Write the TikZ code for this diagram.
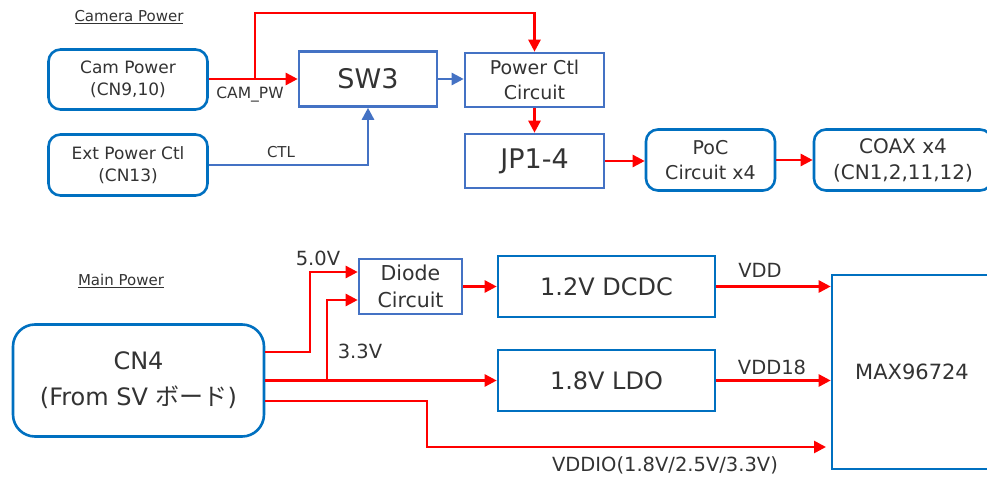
\documentclass[tikz,border=0pt]{standalone}
\usepackage{fontspec}
\setmainfont{DejaVu Sans}
\newfontfamily\jpfont{Noto Sans CJK JP}
\usepackage{xcolor}
\usepackage{tikz}
\usetikzlibrary{arrows.meta, positioning}
\definecolor{boxblue}{RGB}{0, 112, 192}
\definecolor{swblue}{RGB}{68, 114, 196}
\definecolor{pwrred}{RGB}{255, 0, 0}
\definecolor{inktext}{RGB}{51, 51, 51}
\newcommand{\fsz}[1]{\fontsize{#1}{1.3\dimexpr#1pt\relax}\selectfont}
\newcommand{\jp}[1]{{\jpfont #1}}
\tikzset{
    rbox/.style  ={draw=boxblue, line width=2.6pt, fill=white, rounded corners=12pt,
                   align=center, text=inktext, inner sep=0pt, font=\fsz{17}},
    sbox/.style  ={draw=swblue, line width=2.6pt, fill=white,
                   align=center, text=inktext, inner sep=0pt, font=\fsz{17}},
    mbox/.style  ={sbox, draw=boxblue},
    big/.style   ={font=\fsz{27}},
    redar/.style ={-{Triangle[length=12pt, width=12pt]}, line width=2.6pt, draw=pwrred},
    bluear/.style={-{Triangle[length=12pt, width=12pt]}, line width=2.6pt, draw=swblue},
    lbl/.style   ={text=inktext, inner sep=0pt, font=\fsz{19.5}},
    ttl/.style   ={text=inktext, inner sep=0pt, font=\fsz{15}}
}

\begin{document}
\begin{tikzpicture}[x=1pt, y=-1pt]
  \useasboundingbox (0,0) rectangle (987,478);

  % camera power
  \node[ttl] (camttl) at (129,17) {\underline{Camera Power}};
  \node[rbox, minimum width=159, minimum height=60] (campw) at (128,79.5) {Cam Power\\(CN9,10)};
  \node[rbox, minimum width=159, minimum height=61] (extctl) at (128,165) {Ext Power Ctl\\(CN13)};
  \node[sbox, big, minimum width=138, minimum height=55] (sw3) at (368,79) {SW3};
  \node[sbox, font=\fsz{19}, minimum width=139, minimum height=54] (pctl) at (534.5,80) {Power Ctl\\Circuit};
  \node[sbox, big, minimum width=139, minimum height=54] (jp) at (534.5,161) {JP1-4};
  \node[rbox, font=\fsz{19}, minimum width=129, minimum height=61] (poc) at (710.5,160) {PoC\\Circuit x4};
  \node[rbox, font=\fsz{20}, minimum width=178, minimum height=61] (coax) at (903,160) {COAX x4\\(CN1,2,11,12)};

  \coordinate (camtap) at (255,79);
  \draw[redar] (campw.east |- camtap) -- (sw3.west |- camtap);
  \draw[redar] (camtap) -- ++(0,-66) -| (pctl.north);
  \node[lbl, font=\fsz{15.5}] (campwlbl) at (250,95) {CAM\_PW};
  \draw[bluear] (extctl.east) -| (sw3.south);
  \node[lbl, font=\fsz{15}] (ctllbl) at (281,152) {CTL};
  \draw[bluear] (sw3.east) -- (sw3.east -| pctl.west);
  \draw[redar] (pctl.south) -- (jp.north);
  \draw[redar] (jp.east) -- (jp.east -| poc.west);
  \draw[redar] (poc.east) -- (coax.west);

  % main power
  \node[ttl] (mainttl) at (121,281) {\underline{Main Power}};
  \node[rbox, rounded corners=22pt, font=\fontsize{24}{36}\selectfont,
        minimum width=251, minimum height=112] (cn4) at (138.5,380.5) {CN4\\(From SV \jp{ボード})};
  \node[sbox, font=\fsz{20.5}, minimum width=103, minimum height=55] (diode) at (410.5,286.5) {Diode\\Circuit};
  \node[mbox, font=\fsz{24}, minimum width=217, minimum height=61] (dcdc) at (606.5,286.5) {1.2V DCDC};
  \node[mbox, font=\fsz{24}, minimum width=217, minimum height=61] (ldo) at (606.5,380.5) {1.8V LDO};
  \node[mbox, font=\fsz{21}, minimum width=160, minimum height=194] (max) at (912,372) {MAX96724};

  \draw[redar] (cn4.east |- 0,352) -| (310,272) -- (diode.west |- 0,272);
  \node[lbl] (v50) at (318,258) {5.0V};
  \coordinate (tap33) at (327,380.5);
  \draw[redar] (cn4.east) -- (ldo.west);
  \draw[redar] (tap33) |- (diode.west |- 0,300);
  \node[lbl] (v33) at (360,351) {3.3V};
  \coordinate (ioend) at (826,447);
  \draw[redar] (cn4.east |- 0,401) -| (427,447) -- (ioend);
  \node[lbl] (vddio) at (665,465) {VDDIO(1.8V/2.5V/3.3V)};
  \draw[redar] (diode.east) -- (dcdc.west);
  \draw[redar] (dcdc.east) -- (max.west |- dcdc.east);
  \node[lbl] (vdd) at (760,270) {VDD};
  \draw[redar] (ldo.east) -- (max.west |- ldo.east);
  \node[lbl] (vdd18) at (772,367) {VDD18};
\end{tikzpicture}
\end{document}
